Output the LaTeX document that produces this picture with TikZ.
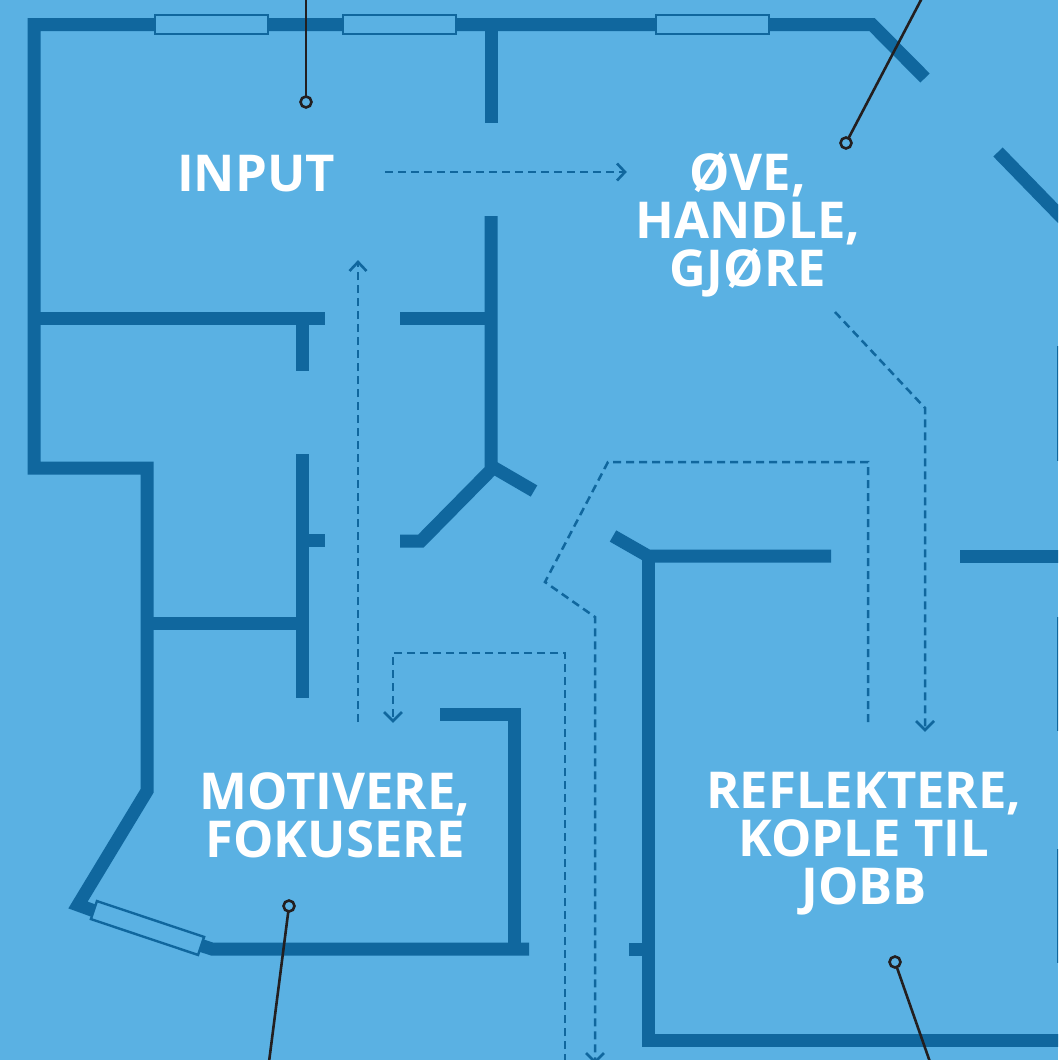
\documentclass[tikz,border=0pt]{standalone}
\usepackage{fontspec}
\setmainfont{Open Sans}
\usetikzlibrary{arrows.meta}
\definecolor{bgblue}{HTML}{5AB1E3}
\definecolor{wallblue}{HTML}{10679E}
\definecolor{leaderink}{HTML}{231F20}
\tikzset{
 wall/.style={draw=wallblue,line width=13pt,miter limit=10},
 edgewall/.style={draw=wallblue,line width=2pt},
 win/.style={draw=wallblue,line width=2.4pt,fill=bgblue,minimum width=113pt,minimum height=19pt,inner sep=0pt,outer sep=0pt},
 flow/.style={draw=wallblue,line width=2.5pt,dash pattern=on 8pt off 5pt},
 tip/.style={draw=wallblue,line width=2.6pt},
 leader/.style={draw=leaderink,line width=2.6pt},
 dot/.style={circle,draw=leaderink,line width=2.6pt,fill=bgblue,minimum size=11pt,inner sep=0pt,outer sep=0pt},
 lab/.style={text=white,font=\fontsize{50.8}{48}\selectfont\bfseries,align=center,inner sep=0pt},
}
\begin{document}
\begin{tikzpicture}[x=1pt,y=-1pt]
\useasboundingbox (0,0) rectangle (1058,1060);
\fill[bgblue] (0,0) rectangle (1058,1060);
\clip (0,0) rectangle (1058,1060);
% walls
\draw[wall] (925,78) -- (872,24.5) -- (34,24.5) -- (34,468) -- (147,468) -- (147,791) -- (78,905) -- (100,913);
\draw[wall] (195,943.5) -- (212,949) -- (529,949);
\draw[wall] (514,949) -- (514,714) -- (440,714);
\draw[wall] (491,24) -- (491,123);
\draw[wall] (534,491) -- (491,466);
\draw[wall] (491,216) -- (491,470) -- (421,541) -- (400,541);
\draw[wall] (34,318) -- (325,318);
\draw[wall] (400,318) -- (491,318);
\draw[wall] (302,318) -- (302,371);
\draw[wall] (302,454) -- (302,698);
\draw[wall] (302,540) -- (325,540);
\draw[wall] (147,623) -- (302,623);
\draw[wall] (998,152) -- (1070,226);
\draw[wall] (960,556) -- (1070,556);
\draw[wall] (831,556) -- (648,556) -- (613,536);
\draw[wall] (648,556) -- (648,1040) -- (1070,1040);
\draw[wall] (629,949) -- (648,949);
\draw[edgewall] (1058,346) -- (1058,461);
\draw[edgewall] (1058,617) -- (1058,731);
\draw[edgewall] (1058,849) -- (1058,963);
% windows
\node[win] (w1) at (211.5,24.5) {};
\node[win] (w2) at (399.5,24.5) {};
\node[win] (w3) at (712.5,24.5) {};
\node[win,rotate=-18.5] (w4) at (147.5,928) {};
% labels
\node[lab] (input) at (256,173.5) {INPUT};
\node[lab] (ove) at (748,225) {ØVE,\\HANDLE,\\GJØRE};
\node[lab] (mot) at (335,815) {MOTIVERE,\\FOKUSERE};
\node[lab] (ref) at (864,844) {REFLEKTERE,\\KOPLE TIL\\JOBB};
% flow coordinates
\coordinate (a1) at (385,172); \coordinate (a2) at (625,172);
\coordinate (b1) at (358,722); \coordinate (b2) at (358,262);
\coordinate (c1) at (835,312); \coordinate (c2) at (925,408); \coordinate (c3) at (925,730);
\coordinate (d1) at (868,722); \coordinate (d2) at (868,462); \coordinate (d3) at (608,462);
\coordinate (d4) at (545,582); \coordinate (d5) at (595,617); \coordinate (d6) at (595,1060);
\coordinate (e1) at (565,1062); \coordinate (e2) at (565,653); \coordinate (e3) at (393,653); \coordinate (e4) at (393,721);
\draw[flow] (a1) -- (a2);
\draw[tip] (617,163.5) -- (a2) -- (617,180.5);
\draw[flow] (b1) -- (b2);
\draw[tip] (349.5,271) -- (b2) -- (366.5,271);
\draw[flow] (c1) -- (c2) -- (c3);
\draw[tip] (916,721) -- (c3) -- (934,721);
\draw[flow] (d1) -- (d2) -- (d3) -- (d4) -- (d5) -- (d6);
\draw[tip] (586,1053) -- (595,1062) -- (604,1053);
\draw[flow] (e1) -- (e2) -- (e3) -- (e4);
\draw[tip] (384,712) -- (e4) -- (402,712);
% leaders
\node[dot] (p1) at (306,102) {};
\node[dot] (p2) at (846,143) {};
\node[dot] (p3) at (289,906) {};
\node[dot] (p4) at (895,962) {};
\coordinate (q1) at (306,-2); \coordinate (q2) at (922,-2);
\coordinate (q3) at (269,1062); \coordinate (q4) at (930,1062);
\draw[leader] (q1) -- (p1);
\draw[leader] (q2) -- (p2);
\draw[leader] (q3) -- (p3);
\draw[leader] (q4) -- (p4);
\end{tikzpicture}
\end{document}
